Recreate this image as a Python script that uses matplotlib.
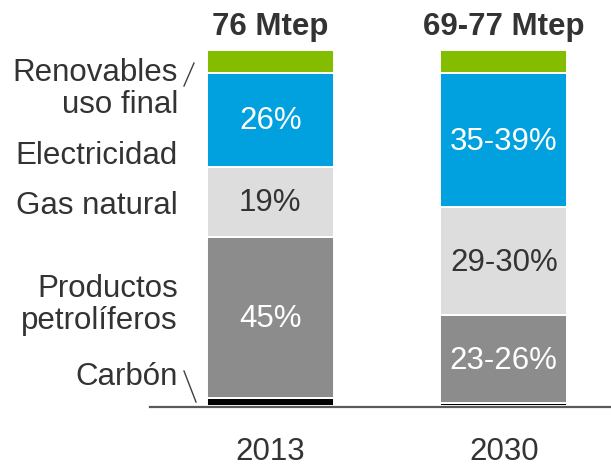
import matplotlib
matplotlib.use("Agg")
import matplotlib.pyplot as plt
from matplotlib.lines import Line2D

# data (share of final energy, %)
years = ["2013", "2030"]
totals = ["76 Mtep", "69-77 Mtep"]
categories = ["Carbón", "Productos\npetrolíferos", "Gas natural", "Electricidad", "Renovables\nuso final"]
values_2013 = [2.0, 45.5, 19.7, 26.4, 6.4]
values_2030 = [0.8, 24.6, 30.5, 37.7, 6.4]
labels_2013 = ["", "45%", "19%", "26%", ""]
labels_2030 = ["", "23-26%", "29-30%", "35-39%", ""]
colors = ["#000000", "#8C8C8C", "#DDDDDD", "#00A1DE", "#84BD00"]
label_colors = ["white", "white", "#333333", "white", "white"]

plt.rcParams['font.family'] = ['Liberation Sans', 'DejaVu Sans']
W, H = 611, 470
fig = plt.figure(figsize=(W / 100, H / 100), dpi=100)

def fx(px):
    return px / W

def fy(py):
    return 1 - py / H

ax = fig.add_axes([fx(150), fy(407), fx(611) - fx(150), fy(50) - fy(407)])
ax.set_xlim(-0.515, 1.459)
ax.set_ylim(-0.4, 100)

series = [values_2013, values_2030]
texts = [labels_2013, labels_2030]
for i, vals in enumerate(series):
    bottom = 0
    for j, v in enumerate(vals):
        ax.bar(i, v, bottom=bottom, width=0.545, color=colors[j],
               edgecolor="white", linewidth=1.4)
        if texts[i][j]:
            ax.text(i, bottom + v / 2 - 0.5, texts[i][j], ha="center", va="center",
                    fontsize=22.5, color=label_colors[j])
        bottom += v
    ax.text(i, 104.2, totals[i], ha="center", va="baseline", fontsize=22.5,
            fontweight="bold", color="#333333", clip_on=False)
    ax.text(i, -15.3, years[i], ha="center", va="baseline", fontsize=22.5,
            color="#333333", clip_on=False)

for s in ["top", "left", "right"]:
    ax.spines[s].set_visible(False)
ax.spines["bottom"].set_color("#595959")
ax.spines["bottom"].set_linewidth(1.6)
ax.set_xticks([])
ax.set_yticks([])

# category labels on the left
label_y = [377, 305, 206, 156, 89]
for name, py in zip(categories, label_y):
    fig.text(fx(178), fy(py), name, ha="right", va="center", fontsize=22.5,
             color="#333333", linespacing=1.07)

fig.add_artist(Line2D([fx(184), fx(194)], [fy(86), fy(63)], color="#404040", linewidth=1))
fig.add_artist(Line2D([fx(184), fx(196)], [fy(371), fy(402)], color="#404040", linewidth=1))

fig.savefig("out.png", dpi=100)
